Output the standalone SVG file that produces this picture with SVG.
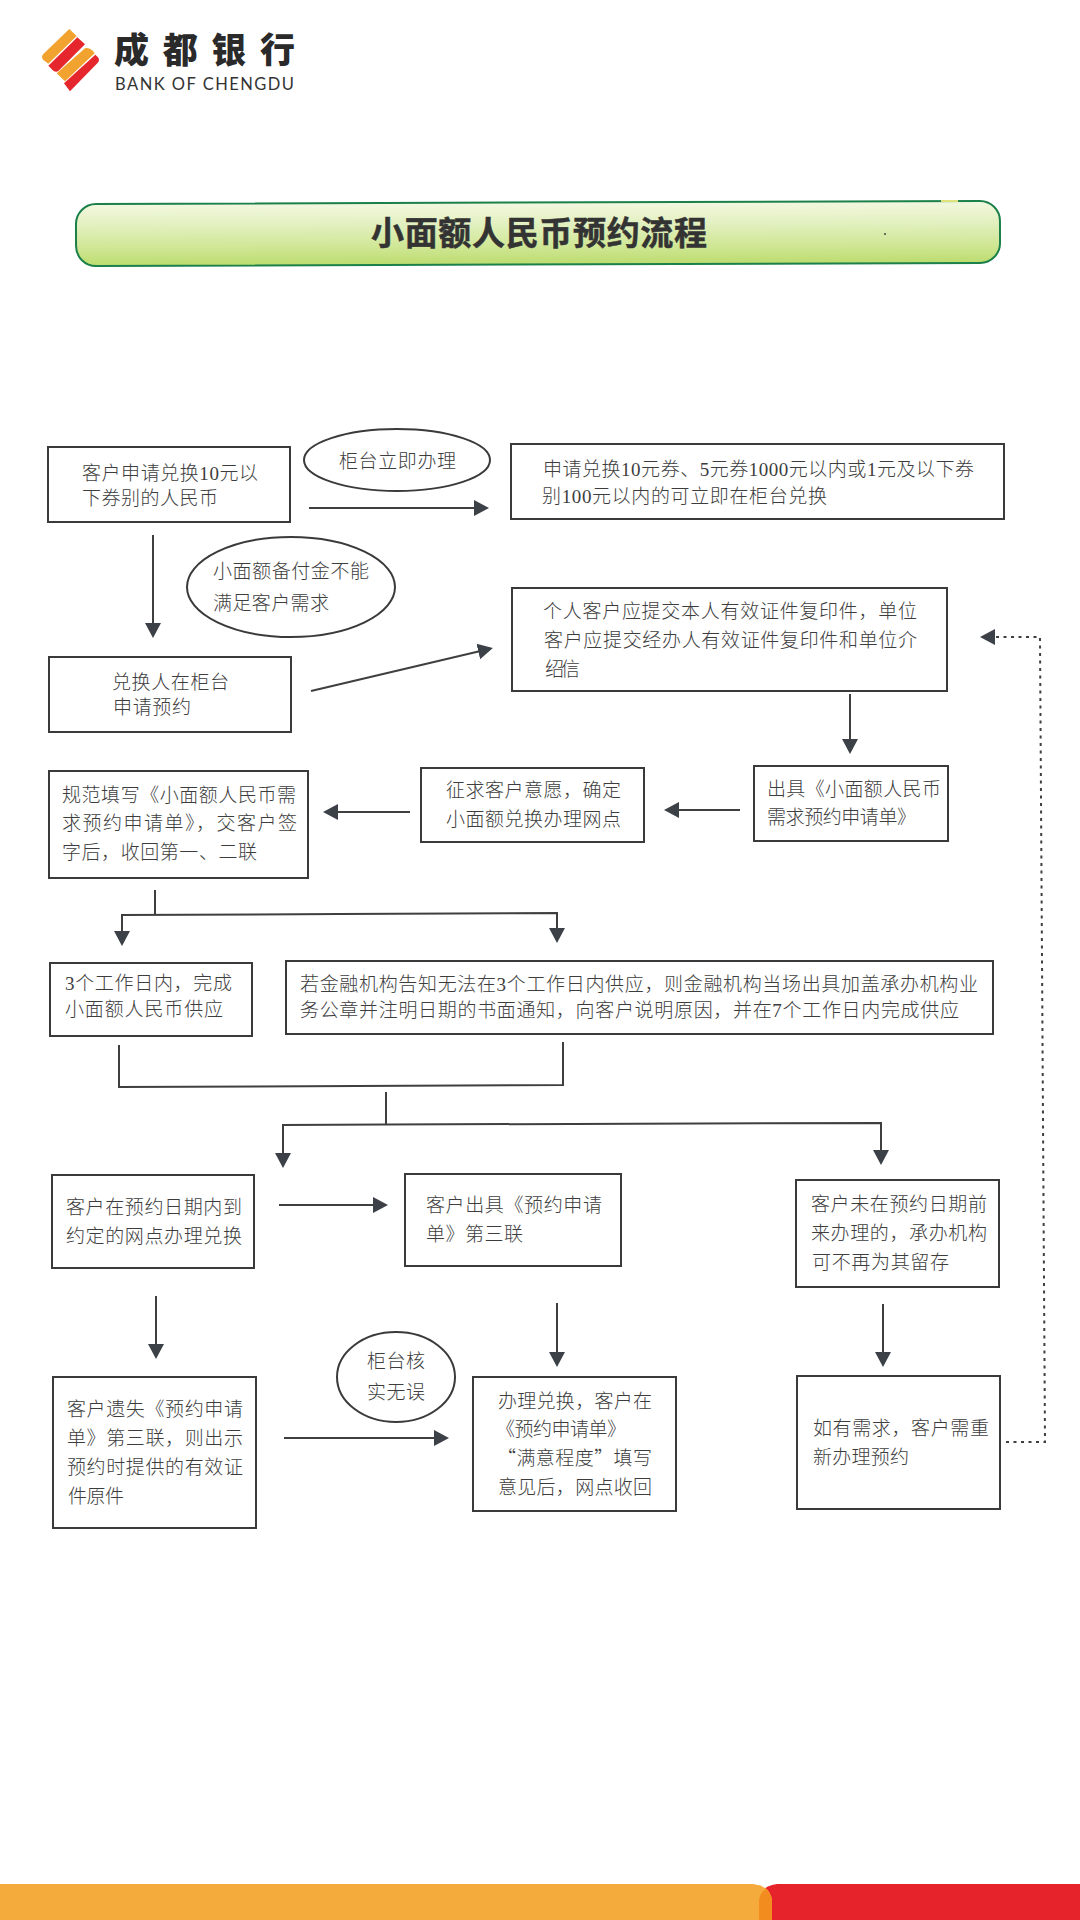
<svg xmlns="http://www.w3.org/2000/svg" width="1080" height="1920" viewBox="0 0 1080 1920">
<style>
.b{fill:#fff;stroke:#3a3a3a;stroke-width:2}
.t{font-family:"Liberation Serif","Noto Sans CJK SC",sans-serif;font-size:19px;fill:#3d3d3d;font-weight:300}
.q{font-family:"Noto Sans CJK SC",sans-serif}
.c{fill:none;stroke:#3f3f3f;stroke-width:2}
.d{fill:none;stroke:#3f3f3f;stroke-width:2;stroke-dasharray:3 4.5}
.a{marker-end:url(#ah)}
.ttl{font-family:"Noto Sans CJK SC",sans-serif;font-size:33px;font-weight:700;fill:#333;stroke:#333;stroke-width:.5}
</style>
<defs>
<marker id="ah" markerUnits="userSpaceOnUse" markerWidth="16" markerHeight="17" refX="11" refY="8.500" orient="auto"><path d="M0 0.500L15 8.500L0 16.500Z" fill="#3c4047"/></marker>
<linearGradient id="bn" x1="0" y1="0" x2="0" y2="1"><stop offset="0" stop-color="#f3f8e0"/><stop offset="0.35" stop-color="#e2f0bf"/><stop offset="0.7" stop-color="#d0e796"/><stop offset="1" stop-color="#bcdc6e"/></linearGradient>
</defs>
<rect width="1080" height="1920" fill="#fff"/>

<g id="logo">
<g transform="translate(20,10) scale(.3333)">
<path d="M148 57L170 78L85 161L70 150Q62 140 70 132Z" fill="#f2a22e"/>
<path d="M172 82L195 103L115 183Q108 188 100 182L85 167Z" fill="#e5262c"/>
<path d="M195 115Q208 112 218 122L224 130L135 214L110 190Z" fill="#f2a22e"/>
<path d="M226 134L234 142Q241 152 232 160L150 244L132 220Z" fill="#e5262c"/>
</g>
<text x="114" y="63" font-family="'Noto Sans CJK SC',sans-serif" font-size="35" font-weight="900" fill="#2a2a2a" textLength="181">成都银行</text>
<text x="115" y="89.500" font-family="'Lato','Liberation Sans',sans-serif" font-size="16.500" fill="#333" textLength="179">BANK OF CHENGDU</text>
</g>

<g id="title">
<rect x="76" y="202.500" width="924" height="62" rx="20" fill="url(#bn)" stroke="#1b8049" stroke-width="2" transform="rotate(-0.2 538 233.500)"/>
<path d="M941 201H958" stroke="#dfe27a" stroke-width="2"/>
<circle cx="885" cy="234" r="1" fill="#444"/>
<text class="ttl" x="371" y="245" textLength="336">小面额人民币预约流程</text>
</g>

<g id="connectors">
<path class="c a" d="M309 508H485"/>
<path class="c a" d="M153 535V634"/>
<path class="c a" d="M311 691L489 649"/>
<path class="c a" d="M850 694V750"/>
<path class="c a" d="M740 810H668"/>
<path class="c a" d="M410 812H327"/>
<path class="c" d="M155 890V914"/>
<path class="c a" d="M340 914L122 915V942"/>
<path class="c a" d="M340 914L557 913V939"/>
<path class="c" d="M119 1045V1087L563 1085V1042"/>
<path class="c" d="M386 1092V1124"/>
<path class="c a" d="M386 1124.500L283 1125V1164"/>
<path class="c a" d="M386 1124.500L881 1123V1161"/>
<path class="c a" d="M279 1205H384"/>
<path class="c a" d="M156 1296V1355"/>
<path class="c a" d="M557 1303V1363"/>
<path class="c a" d="M883 1304V1363"/>
<path class="c a" d="M284 1438H445"/>
<path class="d a" d="M1006 1442H1045L1040 637H984"/>
</g>

<g id="n1"><rect class="b" x="48" y="447" width="242" height="75"/>
<text class="t" x="82" y="480" textLength="176">客户申请兑换10元以</text>
<text class="t" x="82" y="505" textLength="136">下券别的人民币</text></g>

<g id="n2"><ellipse class="b" cx="397" cy="460" rx="93" ry="31"/>
<text class="t" x="339" y="468" textLength="117">柜台立即办理</text></g>

<g id="n3"><rect class="b" x="511" y="444" width="493" height="75"/>
<text class="t" x="543" y="476" textLength="431">申请兑换10元券、5元券1000元以内或1元及以下券</text>
<text class="t" x="542" y="503" textLength="285">别100元以内的可立即在柜台兑换</text></g>

<g id="n4"><ellipse class="b" cx="291" cy="587" rx="104" ry="50"/>
<text class="t" x="213" y="578" textLength="156">小面额备付金不能</text>
<text class="t" x="213" y="610" textLength="116">满足客户需求</text></g>

<g id="n5"><rect class="b" x="512" y="588" width="435" height="103"/>
<text class="t" x="543" y="618" textLength="374">个人客户应提交本人有效证件复印件，单位</text>
<text class="t" x="544" y="647" textLength="373">客户应提交经办人有效证件复印件和单位介</text>
<text class="t" x="545" y="676" textLength="35">绍信</text></g>

<g id="n6"><rect class="b" x="49" y="657" width="242" height="75"/>
<text class="t" x="112" y="689" textLength="117">兑换人在柜台</text>
<text class="t" x="113" y="714" textLength="78">申请预约</text></g>

<g id="n7"><rect class="b" x="754" y="766" width="194" height="75"/>
<text class="t" x="767" y="796" textLength="174">出具《小面额人民币</text>
<text class="t" x="767" y="824" textLength="149">需求预约申请单》</text></g>

<g id="n8"><rect class="b" x="421" y="768" width="223" height="74"/>
<text class="t" x="446" y="797" textLength="175">征求客户意愿，确定</text>
<text class="t" x="446" y="826" textLength="175">小面额兑换办理网点</text></g>

<g id="n9"><rect class="b" x="49" y="771" width="259" height="107"/>
<text class="t" x="62" y="802" textLength="234">规范填写《小面额人民币需</text>
<text class="t" x="62" y="830" textLength="235">求预约申请单》，交客户签</text>
<text class="t" x="62" y="859" textLength="195">字后，收回第一、二联</text></g>

<g id="n10"><rect class="b" x="50" y="963" width="202" height="73"/>
<text class="t" x="65" y="990" textLength="167">3个工作日内，完成</text>
<text class="t" x="65" y="1016" textLength="158">小面额人民币供应</text></g>

<g id="n11"><rect class="b" x="286" y="961" width="707" height="73"/>
<text class="t" x="300" y="991" textLength="678">若金融机构告知无法在3个工作日内供应，则金融机构当场出具加盖承办机构业</text>
<text class="t" x="300" y="1017" textLength="659">务公章并注明日期的书面通知，向客户说明原因，并在7个工作日内完成供应</text></g>

<g id="n12"><rect class="b" x="52" y="1175" width="202" height="93"/>
<text class="t" x="66" y="1214" textLength="176">客户在预约日期内到</text>
<text class="t" x="66" y="1243" textLength="176">约定的网点办理兑换</text></g>

<g id="n13"><rect class="b" x="405" y="1174" width="216" height="92"/>
<text class="t" x="426" y="1212" textLength="176">客户出具《预约申请</text>
<text class="t" x="426" y="1241" textLength="97">单》第三联</text></g>

<g id="n14"><rect class="b" x="796" y="1180" width="203" height="107"/>
<text class="t" x="811" y="1211" textLength="176">客户未在预约日期前</text>
<text class="t" x="811" y="1240" textLength="176">来办理的，承办机构</text>
<text class="t" x="812" y="1269" textLength="137">可不再为其留存</text></g>

<g id="n15"><rect class="b" x="53" y="1377" width="203" height="151"/>
<text class="t" x="67" y="1416" textLength="176">客户遗失《预约申请</text>
<text class="t" x="67" y="1445" textLength="176">单》第三联，则出示</text>
<text class="t" x="67" y="1474" textLength="176">预约时提供的有效证</text>
<text class="t" x="68" y="1503" textLength="56">件原件</text></g>

<g id="n16"><ellipse class="b" cx="396" cy="1377" rx="59" ry="45"/>
<text class="t" x="367" y="1368" textLength="58">柜台核</text>
<text class="t" x="367" y="1399" textLength="58">实无误</text></g>

<g id="n17"><rect class="b" x="473" y="1377" width="203" height="134"/>
<text class="t" x="498" y="1408" textLength="154">办理兑换，客户在</text>
<text class="t" x="496" y="1436" textLength="130">《预约申请单》</text>
<text class="t q" x="497" y="1465" textLength="155">“满意程度”填写</text>
<text class="t" x="498" y="1494" textLength="154">意见后，网点收回</text></g>

<g id="n18"><rect class="b" x="797" y="1376" width="203" height="133"/>
<text class="t" x="813" y="1435" textLength="176">如有需求，客户需重</text>
<text class="t" x="813" y="1464" textLength="96">新办理预约</text></g>

<g id="footer">
<path d="M777 1884H1080V1920H759V1902Q759 1886 777 1884Z" fill="#e6232b"/>
<path d="M0 1884H753Q772 1886 772 1902V1920H0Z" fill="#f5aa3c"/>
<path d="M765.500 1889Q759 1894 759 1902V1920H772V1902Q772 1894 765.500 1889Z" fill="#f28c1e"/>
</g>
</svg>
